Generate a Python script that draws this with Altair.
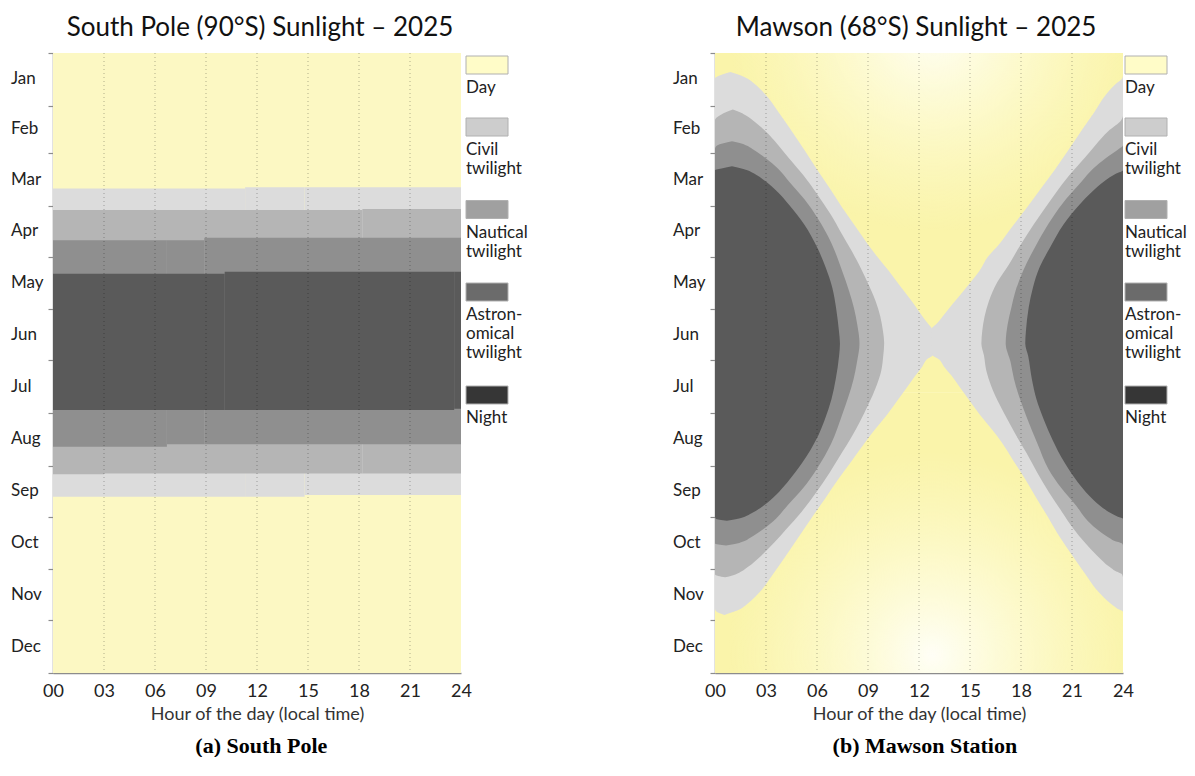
import altair as alt
import pandas as pd

FONT = "Lato"
W, H = 408, 620

# ---------------- axes / labels ----------------
MONTHS = ["Jan", "Feb", "Mar", "Apr", "May", "Jun", "Jul", "Aug", "Sep", "Oct", "Nov", "Dec"]
MONTH_START = [0, 31, 59, 90, 120, 151, 181, 212, 243, 273, 304, 334, 365]
HOUR_TICKS = [0, 3, 6, 9, 12, 15, 18, 21, 24]
GRID_HOURS = [3, 6, 9, 12, 15, 18, 21]

BANDS = ["civil", "nautical", "astro", "night"]
BAND_COLORS = ["#dcdcdc", "#b5b5b5", "#8f8f8f", "#5a5a5a"]

LEGEND_KEYS = ["day", "civil", "nautical", "astro", "night"]
LEGEND_LABELS = ["Day", "Civil\ntwilight", "Nautical\ntwilight", "Astron-\nomical\ntwilight", "Night"]
LEGEND_COLORS = ["#fffcc8", "#cdcdcd", "#a0a0a0", "#6b6b6b", "#363636"]

# ---------------- South Pole (day-of-year boundaries, step at hour) ----------------
SP_BAND = ["civil", "civil", "civil", "nautical", "nautical", "nautical",
           "astro", "astro", "astro", "night", "night", "night"]
SP_H0 = [0, 11.3, 14.8, 0, 3.0, 18.2, 0, 6.7, 8.9, 0, 10.1, 23.6]
SP_H1 = [11.3, 14.8, 24, 3.0, 18.2, 24, 6.7, 8.9, 24, 10.1, 23.6, 24]
SP_D0 = [79.8, 79.0, 79.0, 92.5, 92.5, 91.8, 110.2, 110.2, 108.8, 130.0, 128.8, 128.8]
SP_D1 = [261.2, 261.2, 260.2, 248.0, 247.5, 247.5, 231.8, 230.4, 230.4, 210.2, 210.2, 209.5]

# ---------------- Mawson boundaries: day of year, morning hour, evening hour ----------------
# sunrise / sunset (day <-> civil twilight)
CIV_DAY = [11.2, 13, 15, 18, 24.5, 35, 45, 57, 68.6, 80, 91, 102, 112.7, 120, 128.4, 136, 144, 150,
           155, 159, 163, 177.5, 180.5, 184.5, 190, 196.5, 205, 213, 221.5, 229, 240, 251, 262,
           273.4, 285, 297, 307, 317.5, 324, 327, 329, 330.8]
CIV_M = [0.9, 1.45, 1.9, 2.3, 2.97, 3.75, 4.45, 5.25, 6.0, 6.78, 7.48, 8.25, 9.0, 9.55, 10.23, 10.8,
         11.41, 11.85, 12.2, 12.5, 12.78, 12.83, 12.45, 12.2, 11.78, 11.32, 10.7, 10.12, 9.42, 8.85,
         8.05, 7.25, 6.5, 5.7, 4.92, 4.1, 3.4, 2.62, 1.95, 1.55, 1.1, 0.55]
CIV_E = [24.9, 24.35, 23.95, 23.6, 23.0, 22.3, 21.6, 20.8, 20.0, 19.15, 18.35, 17.5, 16.7, 16.05,
         15.55, 14.95, 14.3, 13.8, 13.4, 13.08, 12.72, 12.77, 13.19, 13.46, 13.92, 14.38, 15.0, 15.58,
         16.28, 16.85, 17.55, 18.25, 18.9, 19.6, 20.28, 21.1, 21.8, 22.58, 23.25, 23.65, 24.1, 24.55]

# civil dawn / dusk (civil <-> nautical twilight)
NAU_DAY = [33.3, 35, 37, 39.5, 46.1, 54, 61.8, 72, 83.3, 95, 106.9, 115, 124.5, 135, 146.1, 155,
           163.7, 171, 178, 187, 195.9, 207, 217.5, 227, 235.1, 247, 258.7, 270, 280.2, 288, 295.9,
           302.5, 305, 307, 308.7]
NAU_M = [1.05, 1.5, 1.85, 2.2, 2.97, 3.7, 4.34, 5.2, 6.02, 6.8, 7.48, 7.95, 8.47, 8.97, 9.45, 9.72,
         9.88, 9.95, 9.9, 9.78, 9.5, 9.02, 8.5, 7.98, 7.48, 6.75, 5.95, 5.1, 4.2, 3.5, 2.72, 1.95, 1.6,
         1.2, 0.6]
NAU_E = [25.05, 24.6, 24.25, 23.9, 23.13, 22.4, 21.74, 20.84, 19.98, 19.16, 18.36, 17.85, 17.29,
         16.6, 16.11, 15.86, 15.72, 15.67, 15.82, 15.96, 16.24, 16.74, 17.3, 17.82, 18.3, 18.95, 19.65,
         20.4, 21.1, 21.74, 22.48, 23.2, 23.55, 23.95, 24.6]

# nautical dawn / dusk (nautical <-> astronomical twilight)
AST_DAY = [52, 53.2, 54.5, 56.5, 61.8, 68, 75.5, 86, 97, 112, 128.4, 140, 150, 160, 171, 182, 192,
           202, 213.6, 230, 245, 256, 266.5, 274, 280.2, 285.5, 287.5, 288.8, 290]
AST_M = [1.0, 1.5, 1.85, 2.2, 2.97, 3.7, 4.34, 5.25, 6.02, 6.85, 7.48, 7.88, 8.17, 8.37, 8.5, 8.35,
         8.15, 7.86, 7.46, 6.83, 5.98, 5.2, 4.25, 3.6, 2.85, 2.05, 1.7, 1.3, 0.65]
AST_E = [25.0, 24.5, 24.12, 23.75, 23.0, 22.25, 21.58, 20.65, 19.85, 18.95, 18.12, 17.68, 17.43,
         17.21, 17.1, 17.39, 17.59, 17.88, 18.3, 18.97, 19.62, 20.36, 21.25, 21.8, 22.45, 23.2, 23.55,
         23.95, 24.65]

# astronomical dawn / dusk (astronomical twilight <-> night)
NGT_DAY = [66.7, 67.8, 69, 71, 75.5, 82, 89.2, 101, 114.7, 126, 138.2, 150, 163.7, 171, 178.3, 192,
           203.8, 216, 227.3, 241, 252.8, 260, 266.5, 271, 273, 274.2, 275.3]
NGT_M = [1.0, 1.5, 1.9, 2.3, 2.97, 3.7, 4.34, 5.25, 6.02, 6.5, 6.9, 7.12, 7.29, 7.35, 7.3, 7.1, 6.85,
         6.45, 5.97, 5.15, 4.25, 3.6, 2.85, 2.15, 1.75, 1.35, 0.7]
NGT_E = [25.0, 24.45, 24.0, 23.6, 22.9, 22.15, 21.45, 20.5, 19.7, 19.1, 18.7, 18.45, 18.29, 18.25,
         18.42, 18.64, 18.91, 19.35, 19.83, 20.55, 21.35, 21.96, 22.65, 23.3, 23.7, 24.05, 24.7]

# ---------------- shared encodings ----------------
XS = alt.Scale(domain=[0, 24], nice=False, zero=False)
YS = alt.Scale(domain=[0, 365], reverse=True, nice=False, zero=False)

X_AXIS = alt.Axis(values=HOUR_TICKS, format="02d", ticks=False, grid=False, domainColor="#8c8c8c",
                  domainWidth=1.5, labelFont=FONT, labelFontSize=18, labelColor="#222",
                  labelPadding=9, labelFlush=False, title="Hour of the day (local time)",
                  titleFont=FONT, titleFontSize=18, titleFontWeight="normal", titleColor="#333",
                  titlePadding=5)
Y_AXIS = alt.Axis(values=MONTH_START, labels=False, ticks=True, tickSize=5, tickColor="#8c8c8c",
                  tickWidth=1.2, domainColor="#8c8c8c", domainWidth=1.5, grid=False, title=None)


def X(field):
    return alt.X(field, type="quantitative", scale=XS, axis=X_AXIS)


def Y(field):
    return alt.Y(field, type="quantitative", scale=YS, axis=Y_AXIS)


def base_layer(day_fill):
    df = pd.DataFrame({"h0": [0], "h1": [24], "d0": [0], "d1": [365]})
    return alt.Chart(df).mark_rect(color=day_fill).encode(x=X("h0"), x2="h1:Q", y=Y("d0"), y2="d1:Q")


def grid_layer():
    df = pd.DataFrame({"h": GRID_HOURS})
    return alt.Chart(df).mark_rule(color="#000", opacity=0.3, strokeDash=[1, 3], strokeWidth=1).encode(
        x=X("h"))


def month_layer():
    mids = [(MONTH_START[i] + MONTH_START[i + 1]) / 2 for i in range(12)]
    df = pd.DataFrame({"name": MONTHS, "mid": mids})
    return alt.Chart(df).mark_text(align="left", baseline="middle", font=FONT, fontSize=17,
                                   color="#222").encode(y=Y("mid"), x=alt.value(-42), text="name:N")


def title_params(text, dx=0):
    return alt.TitleParams(text, font=FONT, fontSize=26, fontWeight="normal", color="#111",
                           offset=11, anchor="middle", dx=dx)


# ---------------- South Pole panel ----------------
band_col = dict(zip(BANDS, BAND_COLORS))
sp_df = pd.DataFrame({"band": SP_BAND, "h0": SP_H0, "h1": SP_H1, "d0": SP_D0, "d1": SP_D1})
sp_df["col"] = sp_df["band"].map(band_col)
sp_bands = alt.Chart(sp_df).mark_rect().encode(
    x=X("h0"), x2="h1:Q", y=Y("d0"), y2="d1:Q", color=alt.Color("col:N", scale=None))

plotA = alt.layer(base_layer("#fcf8c3"), sp_bands, grid_layer(), month_layer()).properties(
    width=W, height=H, title=title_params("South Pole (90°S) Sunlight – 2025", 3))


# ---------------- Mawson panel ----------------
def band_areas(days, morning, evening, color):
    df = pd.DataFrame({"day": days, "m": morning, "e": evening})
    df["ls"] = (df["e"] - 24).clip(lower=0)
    df["re"] = df["e"].clip(upper=24)
    df["end"] = 24.0
    left = alt.Chart(df).mark_area(orient="horizontal", interpolate="monotone", color=color).encode(
        y=Y("day"), x=X("ls"), x2="m:Q")
    right = alt.Chart(df).mark_area(orient="horizontal", interpolate="monotone", color=color).encode(
        y=Y("day"), x=X("re"), x2="end:Q")
    return [left, right]


def glow(d0, d1, cx, cy, r):
    df = pd.DataFrame({"h0": [0], "h1": [24], "d0": [d0], "d1": [d1]})
    grad = alt.RadialGradient(
        gradient="radial", x1=cx, y1=cy, r1=0, x2=cx, y2=cy, r2=r,
        stops=[alt.GradientStop(offset=0, color="rgba(255,255,250,0.95)"),
               alt.GradientStop(offset=0.45, color="rgba(255,254,232,0.55)"),
               alt.GradientStop(offset=1, color="rgba(255,252,215,0)")])
    return alt.Chart(df).mark_rect(fill=grad).encode(x=X("h0"), x2="h1:Q", y=Y("d0"), y2="d1:Q")


mawson_layers = [base_layer("#faf4aa"), glow(200, 365, 0.533, 0.80, 0.5), glow(0, 170, 0.535, 0.083, 0.5)]
mawson_layers += band_areas(CIV_DAY, CIV_M, CIV_E, BAND_COLORS[0])
mawson_layers += band_areas(NAU_DAY, NAU_M, NAU_E, BAND_COLORS[1])
mawson_layers += band_areas(AST_DAY, AST_M, AST_E, BAND_COLORS[2])
mawson_layers += band_areas(NGT_DAY, NGT_M, NGT_E, BAND_COLORS[3])
mawson_layers += [grid_layer(), month_layer()]

plotB = alt.layer(*mawson_layers).properties(
    width=W, height=H, title=title_params("Mawson (68°S) Sunlight – 2025", -3))


# ---------------- legends ----------------
def legend_chart():
    tops, t = [], 3.0
    for lab in LEGEND_LABELS:
        tops.append(t)
        t += 41.5 + 20.5 * (lab.count("\n") + 1)
    df = pd.DataFrame({"key": LEGEND_KEYS, "label": LEGEND_LABELS, "top": tops,
                       "col": LEGEND_COLORS})
    df["bot"] = df["top"] + 18
    df["ty"] = df["top"] + 24
    df["x0"] = 0.0
    df["x1"] = 42.0
    ys = alt.Scale(domain=[0, H], reverse=True, nice=False, zero=False)
    xs = alt.Scale(domain=[0, 45], nice=False, zero=False)
    sw = alt.Chart(df).mark_rect(stroke="#b0b0b0", strokeWidth=1).encode(
        x=alt.X("x0:Q", scale=xs, axis=None), x2="x1:Q",
        y=alt.Y("top:Q", scale=ys, axis=None), y2="bot:Q",
        color=alt.Color("col:N", scale=None))
    tx = alt.Chart(df).mark_text(align="left", baseline="top", lineBreak="\n", lineHeight=19,
                                 font=FONT, fontSize=17, color="#222").encode(
        x=alt.X("x0:Q", scale=xs, axis=None), y=alt.Y("ty:Q", scale=ys, axis=None), text="label:N")
    return alt.layer(sw, tx).properties(width=45, height=H)


def caption(text, dx):
    return alt.TitleParams(text, orient="bottom", font="Liberation Serif", fontSize=22,
                           fontWeight="bold", color="#000", offset=13, anchor="middle", dx=dx)


panelA = alt.hconcat(plotA, legend_chart(), spacing=5, bounds="flush").properties(
    title=caption("(a) South Pole", -8))
panelB = alt.hconcat(plotB, legend_chart(), spacing=2, bounds="flush").properties(
    title=caption("(b) Mawson Station", -5))

chart = alt.hconcat(panelA, panelB, spacing=145).properties(
    padding={"left": 3, "top": 7, "right": 0, "bottom": 0}
).configure_view(stroke=None)

chart.save("out.html", embed_options={"renderer": "svg", "actions": False})
